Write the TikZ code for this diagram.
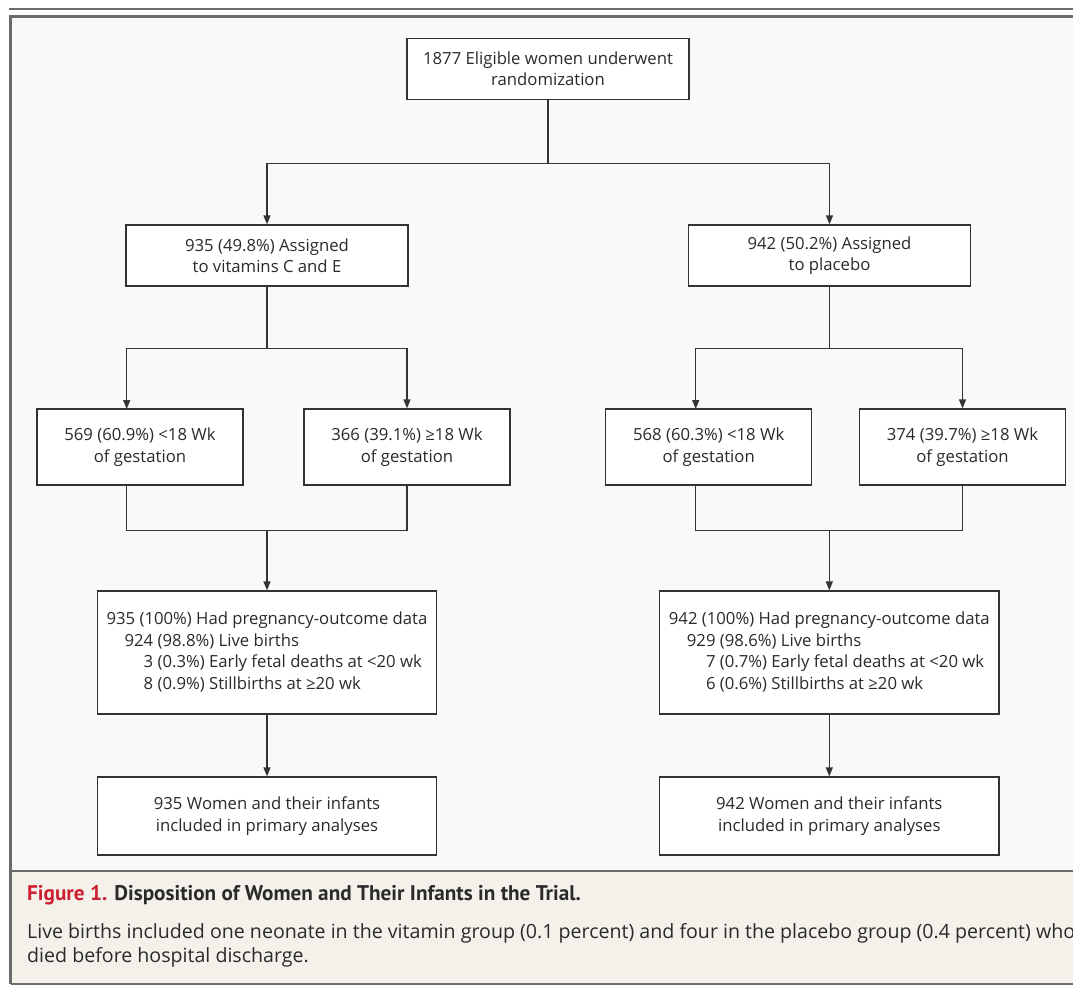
\documentclass[tikz,border=0pt]{standalone}
\usepackage{fontspec}
\setmainfont{Open Sans}
\newfontfamily\titlefont{PT Sans}
\usetikzlibrary{arrows.meta}
\definecolor{linec}{HTML}{333333}
\definecolor{txt}{HTML}{2A2A2A}
\definecolor{framec}{HTML}{6B6B6B}
\definecolor{diagbg}{HTML}{F9F9F9}
\definecolor{capbg}{HTML}{F4F1EB}
\definecolor{capred}{HTML}{CC1F2F}
\tikzset{
  box/.style={draw=linec, fill=white, line width=1.3pt, inner sep=0pt, align=center, text=txt, font=\fontsize{16.7}{21.5}\selectfont},
  conn/.style={draw=linec, line width=1.3pt},
  arr/.style={conn, -{Triangle[length=9pt,width=7pt]}},
  captext/.style={anchor=base west, inner sep=0pt, text=txt}
}
\begin{document}
\begin{tikzpicture}[x=1pt,y=-1pt]
\useasboundingbox (0,0) rectangle (1073,985);
\clip (0,0) rectangle (1073,985);
% backgrounds
\fill[white] (0,0) rectangle (1073,985);
\fill[diagbg] (10,16) rectangle (1100,871);
\fill[capbg] (10,871) rectangle (1100,983);
% rules and frame
\draw[framec, line width=2pt] (9,8.8) -- (1100,8.8);
\draw[framec, line width=3pt] (1100,16.3) -- (10.5,16.3) -- (10.5,983.5);
\draw[framec, line width=2.5pt] (10.5,871) -- (1100,871);
\draw[framec, line width=2pt] (10.5,983.5) -- (1100,983.5);

% boxes
\node[box, minimum width=282pt, minimum height=61pt] (top) at (548,68.75) {1877 Eligible women underwent\\randomization};
\node[box, minimum width=282pt, minimum height=61pt] (asgL) at (267,255.5) {935 (49.8\%) Assigned\\to vitamins C and E};
\node[box, minimum width=282pt, minimum height=61pt] (asgR) at (829.5,255.5) {942 (50.2\%) Assigned\\to placebo};

\node[box, minimum width=206pt, minimum height=76pt] (b1) at (140,447) {569 (60.9\%) <18 Wk\\of gestation};
\node[box, minimum width=206pt, minimum height=76pt] (b2) at (407,447) {366 (39.1\%) ≥18 Wk\\of gestation};
\node[box, minimum width=206pt, minimum height=76pt] (b3) at (708.7,447) {568 (60.3\%) <18 Wk\\of gestation};
\node[box, minimum width=206pt, minimum height=76pt] (b4) at (962.5,447) {374 (39.7\%) ≥18 Wk\\of gestation};

\node[box, minimum width=339.4pt, minimum height=123pt] (outL) at (267,652.5) {\begin{tabular}{@{}r@{}l@{}}\multicolumn{2}{@{}l@{}}{935 (100\%) Had pregnancy-outcome data}\\ \hspace*{18pt}924 & \ (98.8\%) Live births\\ 3 & \ (0.3\%) Early fetal deaths at <20 wk\\ 8 & \ (0.9\%) Stillbirths at ≥20 wk\end{tabular}};
\node[box, minimum width=339.4pt, minimum height=123pt] (outR) at (829.3,652.5) {\begin{tabular}{@{}r@{}l@{}}\multicolumn{2}{@{}l@{}}{942 (100\%) Had pregnancy-outcome data}\\ \hspace*{18pt}929 & \ (98.6\%) Live births\\ 7 & \ (0.7\%) Early fetal deaths at <20 wk\\ 6 & \ (0.6\%) Stillbirths at ≥20 wk\end{tabular}};

\node[box, minimum width=339.4pt, minimum height=78pt] (finL) at (267,816) {935 Women and their infants\\included in primary analyses};
\node[box, minimum width=339.4pt, minimum height=78pt] (finR) at (829.3,816) {942 Women and their infants\\included in primary analyses};

% junction coordinates
\coordinate (jTop) at (548,163.3);
\coordinate (jTopL) at (267,163.3);
\coordinate (jTopR) at (829.5,163.3);
\coordinate (jL) at (267,348.3);
\coordinate (jR) at (829.5,348.3);
\coordinate (b1in) at (126.7,409);
\coordinate (b3in) at (695.7,409);
\coordinate (b1out) at (126.7,485);
\coordinate (b3out) at (695.7,485);
\coordinate (mL) at (267,530.7);
\coordinate (mR) at (829.3,530.7);

% connectors
\draw[conn] (top.south) -- (jTop);
\draw[conn] (jTopL) -- (jTopR);
\draw[arr] (jTopL) -- (asgL.north);
\draw[arr] (jTopR) -- (asgR.north);

\draw[conn] (asgL.south) -- (jL);
\draw[arr] (jL) -| (b1in);
\draw[arr] (jL) -| (b2.north);
\draw[conn] (asgR.south) -- (jR);
\draw[arr] (jR) -| (b3in);
\draw[arr] (jR) -| (b4.north);

\draw[conn] (b1out) |- (mL);
\draw[conn] (b2.south) |- (mL);
\draw[arr] (mL) -- (outL.north);
\draw[conn] (b3out) |- (mR);
\draw[conn] (b4.south) |- (mR);
\draw[arr] (mR) -- (outR.north);

\draw[arr] (outL.south) -- (finL.north);
\draw[arr] (outR.south) -- (finR.north);

% caption
\node[captext, font=\titlefont\bfseries\fontsize{21.2}{24}\selectfont] (capt) at (27,900) {\textcolor{capred}{Figure 1.} Disposition of Women and Their Infants in the Trial.};
\node[captext, font=\fontsize{19.6}{24}\selectfont] (cap1) at (27,938) {Live births included one neonate in the vitamin group (0.1 percent) and four in the placebo group (0.4 percent) who};
\node[captext, font=\fontsize{19.6}{24}\selectfont] (cap2) at (27,962) {died before hospital discharge.};
\end{tikzpicture}
\end{document}
